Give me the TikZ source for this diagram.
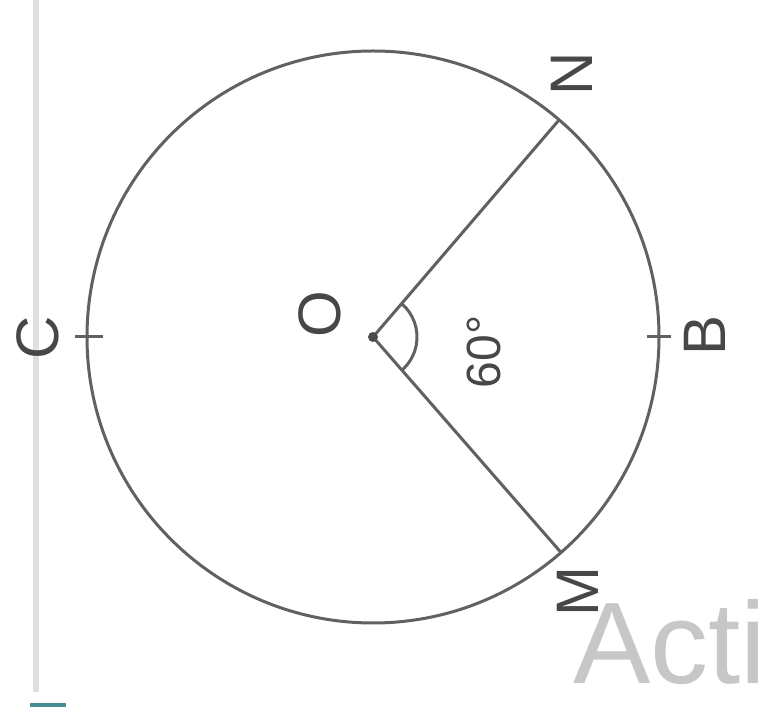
\documentclass[tikz,border=0pt]{standalone}
\usepackage{fontspec}
\setmainfont{Liberation Sans}
\definecolor{rulegray}{RGB}{221,224,226}
\definecolor{tealbit}{RGB}{70,140,150}
\begin{document}
\begin{tikzpicture}[x=1pt,y=1pt,
  geo/.style={line width=3pt, draw=black!62},
  lab/.style={text=black!72, font=\fontsize{60}{60}\selectfont, inner sep=0pt, rotate=90},
  wm/.style={text=black!22, font=\fontsize{116}{116}\selectfont, inner sep=0pt, anchor=base west}]
\useasboundingbox (0,0) rectangle (779,707);
\clip (0,0) rectangle (779,707);
% side rule
\draw[line width=6pt, draw=rulegray] (36,707) -- (36,15);
\fill[tealbit] (30,0) rectangle (66,4);
% geometry
\coordinate (O) at (373,370);
\path (O) ++(49.4:286) coordinate (N);
\path (O) ++(-48.9:286) coordinate (M);
\path (O) ++(0:286) coordinate (B);
\path (O) ++(180:286) coordinate (C);
\draw[geo] (O) circle[radius=286];
\draw[geo] (O) -- (N);
\draw[geo] (O) -- (M);
\draw[geo] ([xshift=-12]B) -- ([xshift=12]B);
\draw[geo] ([xshift=-12]C) -- ([xshift=16]C);
\fill[black!70] (O) circle[radius=5];
\draw[geo] ([shift={(49.4:44)}]O) arc[start angle=49.4, end angle=-48.9, radius=44];
% labels
\node[lab] (lC) at (38,369) {C};
\node[lab] (lB) at (705,372) {B};
\node[lab] (lN) at (572,633) {N};
\node[lab] (lM) at (578,115) {M};
\node[lab] (lO) at (320,393) {O};
\node[lab, font=\fontsize{48}{48}\selectfont] (l60) at (484,355) {60°};
% watermark
\node[wm] (wm) at (573,24) {Acti};
\end{tikzpicture}
\end{document}
